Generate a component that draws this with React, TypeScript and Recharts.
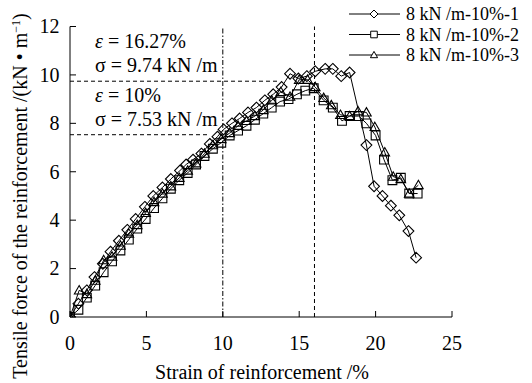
import React from 'react';
import { LineChart, Line, XAxis, YAxis, ReferenceLine, Legend } from 'recharts';

const strain1 = [0, 0.55, 1.1, 1.6, 2.15, 2.65, 3.2, 3.75, 4.3, 4.9, 5.45, 6.05, 6.6, 7.2, 7.6, 8.05, 8.6, 9.15, 9.65, 10.05, 10.6, 11.1, 11.65, 12.2, 12.75, 13.3, 13.85, 14.4, 14.95, 15.5, 16.05, 16.7, 17.2, 17.75, 18.3, 19.4, 19.9, 20.45, 21.0, 21.55, 22.15, 22.65];
const force1 = [0, 0.55, 1.1, 1.65, 2.2, 2.7, 3.15, 3.6, 4.05, 4.55, 5.0, 5.35, 5.7, 6.05, 6.3, 6.5, 6.75, 7.15, 7.45, 7.75, 8.0, 8.2, 8.45, 8.65, 8.95, 9.2, 9.5, 10.05, 9.85, 9.95, 10.15, 10.25, 10.25, 9.95, 10.1, 7.1, 5.4, 5.0, 4.6, 4.2, 3.55, 2.45];

const strain2 = [0, 0.55, 1.1, 1.65, 2.2, 2.75, 3.3, 3.85, 4.4, 4.95, 5.5, 6.05, 6.6, 7.15, 7.7, 8.25, 8.8, 9.35, 9.9, 10.45, 11.0, 11.55, 12.1, 12.65, 13.2, 13.75, 14.3, 14.85, 15.4, 15.95, 16.6, 17.2, 17.8, 18.3, 18.9, 19.4, 20.0, 20.55, 21.1, 21.65, 22.2, 22.75];
const force2 = [0, 0.3, 0.8, 1.3, 1.85, 2.3, 2.75, 3.2, 3.65, 4.05, 4.5, 4.9, 5.3, 5.65, 5.95, 6.3, 6.65, 6.95, 7.2, 7.5, 7.7, 7.9, 8.15, 8.4, 8.65, 8.9, 9.0, 9.2, 9.35, 9.45, 8.95, 8.65, 8.1, 8.3, 8.3, 8.0, 7.5, 6.5, 5.65, 5.75, 5.1, 5.1];

const strain3 = [0, 0.6, 1.1, 1.65, 2.2, 2.75, 3.3, 3.85, 4.4, 4.95, 5.5, 6.05, 6.6, 7.15, 7.7, 8.25, 8.8, 9.35, 9.9, 10.45, 11.0, 11.55, 12.1, 12.65, 13.2, 13.8, 14.4, 15.0, 15.55, 16.05, 16.6, 17.1, 17.7, 18.3, 18.85, 19.4, 19.95, 20.6, 21.15, 21.65, 22.2, 22.8];
const force3 = [0, 1.1, 0.95, 1.5, 2.35, 2.5, 2.95, 3.45, 3.8, 4.3, 4.75, 5.1, 5.4, 5.75, 6.05, 6.35, 6.75, 7.1, 7.35, 7.6, 7.9, 8.1, 8.3, 8.55, 8.95, 9.3, 9.1, 9.8, 9.8, 9.5, 9.05, 8.75, 8.35, 8.3, 8.5, 8.45, 7.85, 6.8, 5.8, 5.7, 5.1, 5.45];

const seriesNames = ['8 kN /m-10%-1', '8 kN /m-10%-2', '8 kN /m-10%-3'];
const xTicks = [0, 5, 10, 15, 20, 25];
const yTicks = [0, 2, 4, 6, 8, 10, 12];

const refStrainA = 10;
const refStrainB = 16.0;
const refForceA = 9.74;
const refForceB = 7.53;
const refForceAEnd = 13.6;
const refForceBEnd = 9.1;

const FONT = "'Liberation Serif', 'Times New Roman', Times, serif";
const FS = 20;
const LEGEND_FS = 18;

const zip = (xs: number[], ys: number[]) => xs.map((x, i) => ({ x, y: ys[i] }));
const data1 = zip(strain1, force1);
const data2 = zip(strain2, force2);
const data3 = zip(strain3, force3);

const diamondPath = (cx: number, cy: number, r: number) => `M${cx},${cy - r}L${cx + r},${cy}L${cx},${cy + r}L${cx - r},${cy}Z`;
const squarePath = (cx: number, cy: number, r: number) => `M${cx - r},${cy - r}L${cx + r},${cy - r}L${cx + r},${cy + r}L${cx - r},${cy + r}Z`;
const trianglePath = (cx: number, cy: number, r: number) => `M${cx},${cy - r}L${cx + r},${cy + r * 0.75}L${cx - r},${cy + r * 0.75}Z`;

const makeDot = (kind: string) => (p: any) => {
  const { cx, cy, index } = p;
  if (cx == null || cy == null) return <g key={`${kind}-${index}`} />;
  let d = '';
  if (kind === 'diamond') d = diamondPath(cx, cy, 5.4);
  else if (kind === 'square') d = squarePath(cx, cy, 4.4);
  else d = trianglePath(cx, cy, 4.8);
  return <path key={`${kind}-${index}`} d={d} fill="none" stroke="#000" strokeWidth={1.1} />;
};

const XTick = (p: any) => {
  const { x, y, payload } = p;
  return (
    <g>
      <line x1={x} x2={x} y1={y} y2={y - 6} stroke="#000" strokeWidth={1} />
      <text x={x} y={y + 33} textAnchor="middle" fontSize={FS} fontFamily={FONT} fill="#000">{payload.value}</text>
    </g>
  );
};

const YTick = (p: any) => {
  const { x, y, payload } = p;
  return (
    <g>
      <line x1={x} x2={x + 6} y1={y} y2={y} stroke="#000" strokeWidth={1} />
      <text x={x - 10.5} y={y + 6.8} textAnchor="end" fontSize={FS} fontFamily={FONT} fill="#000">{payload.value}</text>
    </g>
  );
};

const kinds = ['diamond', 'square', 'triangle'];

const LegendContent = () => (
  <svg width={192} height={68} style={{ display: 'block', overflow: 'visible' }}>
    {seriesNames.map((name, i) => {
      const cy = 14 + i * 20.5;
      let d = '';
      if (kinds[i] === 'diamond') d = diamondPath(34, cy, 4);
      else if (kinds[i] === 'square') d = squarePath(34, cy, 3.3);
      else d = trianglePath(34, cy, 3.6);
      return (
        <g key={name}>
          <line x1={9} x2={60} y1={cy} y2={cy} stroke="#000" strokeWidth={1} />
          <path d={d} fill="#fff" stroke="#000" strokeWidth={1} />
          <text x={66} y={cy + 6.2} fontSize={LEGEND_FS} fontFamily={FONT} fill="#000">{name}</text>
        </g>
      );
    })}
  </svg>
);

export default function App() {
  return (
    <div style={{ position: 'absolute', left: 0, top: 0, width: 532, height: 383, background: '#fff', overflow: 'hidden' }}>
      <LineChart width={532} height={383} margin={{ top: 26.5, right: 80, bottom: 0, left: 0 }}>
        <XAxis type="number" dataKey="x" domain={[0, 25]} ticks={xTicks} height={66} tickSize={0} tickMargin={0} tickLine={false} axisLine={{ stroke: '#000', strokeWidth: 1 }} tick={<XTick />} interval={0} allowDataOverflow />
        <YAxis type="number" dataKey="y" domain={[0, 12]} ticks={yTicks} width={70} tickSize={0} tickMargin={0} tickLine={false} axisLine={{ stroke: '#000', strokeWidth: 1 }} tick={<YTick />} interval={0} allowDataOverflow />
        <ReferenceLine x={refStrainA} stroke="#000" strokeWidth={1} strokeDasharray="5 2 1.5 2" />
        <ReferenceLine x={refStrainB} stroke="#000" strokeWidth={1} strokeDasharray="4 3" />
        <ReferenceLine segment={[{ x: 0, y: refForceA }, { x: refForceAEnd, y: refForceA }]} stroke="#000" strokeWidth={1} strokeDasharray="4 3" />
        <ReferenceLine segment={[{ x: 0, y: refForceB }, { x: refForceBEnd, y: refForceB }]} stroke="#000" strokeWidth={1} strokeDasharray="4 3" />
        <Line data={data3} dataKey="y" name={seriesNames[2]} stroke="#000" strokeWidth={1} dot={makeDot('triangle')} isAnimationActive={false} />
        <Line data={data2} dataKey="y" name={seriesNames[1]} stroke="#000" strokeWidth={1} dot={makeDot('square')} isAnimationActive={false} />
        <Line data={data1} dataKey="y" name={seriesNames[0]} stroke="#000" strokeWidth={1} dot={makeDot('diamond')} isAnimationActive={false} />
        <Legend layout="vertical" align="center" verticalAlign="middle" content={LegendContent} wrapperStyle={{ left: 340, top: 0, width: 192, height: 68 }} />
      </LineChart>
      <svg width={532} height={383} style={{ position: 'absolute', left: 0, top: 0, pointerEvents: 'none' }}>
        <text transform="translate(27,196) rotate(-90)" textAnchor="middle" fontSize={FS} fontFamily={FONT} fill="#000">
          Tensile force of the reinforcement /(kN • m<tspan fontSize={12} dy={-7}>−1</tspan><tspan dy={7}>)</tspan>
        </text>
        <text x={262} y={379} textAnchor="middle" fontSize={FS} fontFamily={FONT} fill="#000">Strain of reinforcement /%</text>
        <text x={95} y={48} fontSize={FS} fontFamily={FONT} fill="#000"><tspan fontStyle="italic">ε</tspan> = 16.27%</text>
        <text x={95} y={71.5} fontSize={FS} fontFamily={FONT} fill="#000">σ = 9.74 kN /m</text>
        <text x={95} y={101.5} fontSize={FS} fontFamily={FONT} fill="#000"><tspan fontStyle="italic">ε</tspan> = 10%</text>
        <text x={95} y={126} fontSize={FS} fontFamily={FONT} fill="#000">σ = 7.53 kN /m</text>
      </svg>
    </div>
  );
}
